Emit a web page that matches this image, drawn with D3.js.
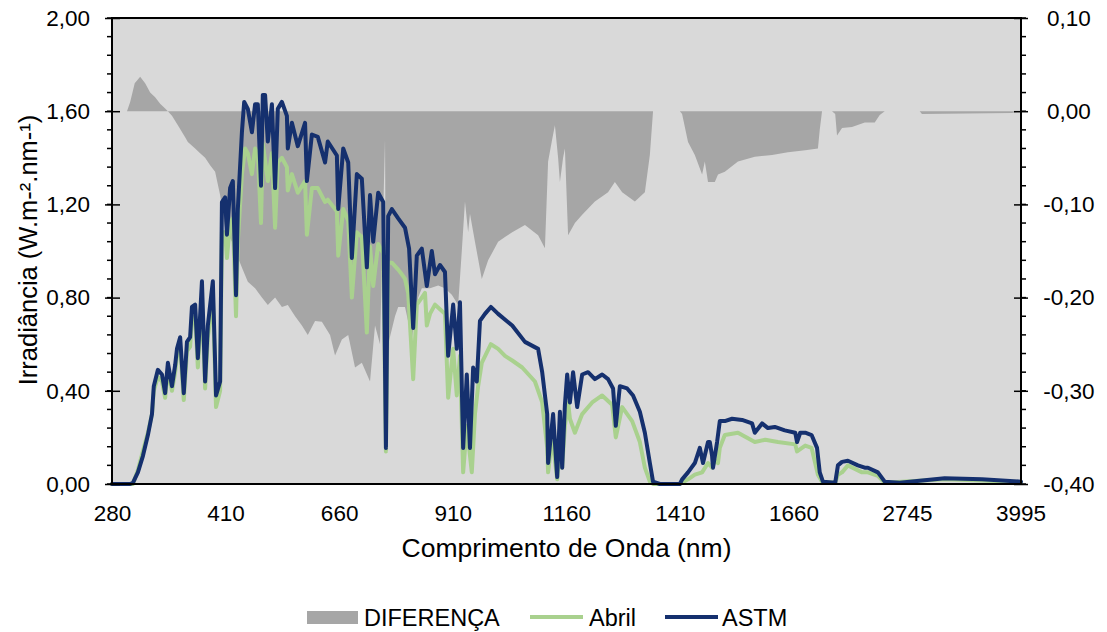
<!DOCTYPE html>
<html><head><meta charset="utf-8">
<script src="https://cdn.jsdelivr.net/npm/d3@7"></script>
<style>
html,body{margin:0;padding:0;background:#fff;}
svg{display:block;font-family:"Liberation Sans",Arial,sans-serif;}
</style></head>
<body><svg id="chart" width="1107" height="632"></svg>
<script>
// ---- DATA (wavelength nm / value) ----
const xTickValues = [280, 410, 660, 910, 1160, 1410, 1660, 2745, 3995];
const xTickLabels = ["280", "410", "660", "910", "1160", "1410", "1660", "2745", "3995"];
const yLeftTicks = [0, 0.4, 0.8, 1.2, 1.6, 2.0];
const yRightTicks = [-0.4, -0.3, -0.2, -0.1, 0, 0.1];

const astmWl = [280,289,300,303,308.5,314,319.5,324,326,330.5,335,338.5,341.5,346,349.5,351.5,355,359,362.5,366,368,371.5,374.5,379,382.5,385.5,391,394.5,399,
402,409,413,420,426,433,437,446,451,459,468,475,481,488,492,497,503,512,519,525,534,545,547,556,569,585,589,600,613,629,635,655,658,669,680,688,699,710,721,728,735,746,757,763,768,776,790,805,814,823,831,842,853,864,871,882,893,900,911,919,926,933,941,948,955,963,970,981,994,1010,1041,1069,1098,1107,1118,1120,1131,1140,1146,1151,1157,1162,1168,1175,1184,1195,1208,1223,1239,1252,1263,1269,1278,1294,1307,1322,1333,1344,1351,1366,1410,1415,1428,1443,1454,1461,1472,1476,1481,1483,1492,1498,1509,1525,1547,1569,1575,1591,1604,1619,1641,1664,1668,1675,1686,1700,
1755,1785,1820,1955,1985,2030,2095,2205,2280,2315,2425,2500,2665,3160,3570,4000];
const astmVal = [0,0,0,0.005,0.05,0.12,0.21,0.30,0.42,0.49,0.47,0.39,0.52,0.42,0.51,0.58,0.63,0.39,0.61,0.63,0.76,0.77,0.54,0.87,0.44,0.68,0.87,0.38,0.44,
1.21,1.23,1.07,1.27,1.30,0.81,1.18,1.51,1.64,1.61,1.51,1.63,1.63,1.28,1.67,1.67,1.47,1.63,1.27,1.61,1.64,1.58,1.44,1.55,1.45,1.55,1.30,1.50,1.49,1.38,1.47,1.41,1.18,1.44,1.38,0.97,1.33,1.31,0.93,1.24,1.04,1.25,1.21,0.155,1.15,1.18,1.14,1.10,1.01,0.67,0.98,1.01,0.85,1.00,0.90,0.94,0.91,0.55,0.77,0.58,0.78,0.155,0.47,0.155,0.50,0.44,0.70,0.73,0.76,0.73,0.68,0.61,0.58,0.48,0.30,0.09,0.30,0.03,0.31,0.07,0.34,0.47,0.35,0.48,0.33,0.47,0.48,0.45,0.47,0.45,0.41,0.25,0.42,0.41,0.38,0.31,0.22,0.09,0.01,0,0,0.02,0.05,0.09,0.155,0.09,0.18,0.18,0.12,0.07,0.18,0.27,0.27,0.28,0.275,0.26,0.22,0.26,0.24,0.245,0.23,0.22,0.18,0.22,0.22,0.21,
0.155,0.05,0.01,0.005,0.08,0.095,0.10,0.08,0.07,0.07,0.05,0.01,0.005,0.025,0.02,0.01];

const abrilWl = [280,303,308.5,314,319.5,324,326,330.5,335,338.5,341.5,346,349.5,351.5,355,359,362.5,366,368,371.5,374.5,379,382.5,385.5,391,394.5,399,
402,409,413,420,426,433,437,446,453,459,468,475,481,488,492,503,512,519,525,534,545,547,556,569,585,589,600,613,629,635,655,658,669,680,688,699,710,721,728,735,746,757,763,768,776,790,798,805,812,823,831,842,849,853,860,871,882,893,900,911,919,926,933,941,952,959,966,974,994,1010,1025,1041,1063,1091,1107,1118,1120,1129,1140,1146,1151,1157,1164,1168,1179,1195,1217,1239,1261,1269,1283,1305,1322,1333,1344,1351,1410,1428,1443,1459,1472,1481,1487,1494,1498,1509,1538,1575,1598,1626,1664,1668,1686,1700,
1765,1810,1955,1985,2030,2095,2250,2315,2425,2500,3160,3570,4000];
const abrilVal = [0,0,0.06,0.14,0.22,0.30,0.40,0.46,0.44,0.37,0.49,0.40,0.48,0.55,0.59,0.36,0.57,0.59,0.71,0.72,0.50,0.80,0.41,0.63,0.80,0.33,0.40,
1.08,1.08,0.97,1.12,1.14,0.72,1.04,1.33,1.44,1.42,1.33,1.44,1.42,1.12,1.46,1.30,1.42,1.10,1.38,1.40,1.36,1.26,1.33,1.25,1.30,1.07,1.27,1.27,1.21,1.22,1.17,0.98,1.18,1.13,0.80,1.08,1.06,0.65,1.02,0.85,1.03,0.99,0.14,0.95,0.95,0.92,0.90,0.88,0.82,0.45,0.77,0.80,0.82,0.68,0.73,0.77,0.75,0.73,0.37,0.58,0.38,0.55,0.05,0.25,0.05,0.30,0.42,0.52,0.60,0.58,0.55,0.53,0.50,0.44,0.35,0.155,0.05,0.20,0.02,0.15,0.07,0.25,0.35,0.28,0.22,0.30,0.35,0.38,0.34,0.20,0.33,0.27,0.18,0.07,0.01,0,0,0.02,0.04,0.05,0.09,0.07,0.10,0.09,0.155,0.21,0.22,0.18,0.19,0.18,0.17,0.14,0.165,0.155,
0.04,0.01,0.005,0.04,0.05,0.08,0.05,0.05,0.035,0.005,0.02,0.015,0.008];

const difWl = [280,296.5,300,305,311,316.5,322,327.5,333,338.5,341.5,346,352.5,360.5,363.5,371.5,377,382.5,388,393.5,399,
409,424,437,448,459,475,490,503,519,534,547,563,578,591,607,622,640,651,666,680,695,710,728,739,750,761,763,768,783,790,805,820,834,842,860,878,893,908,922,930,937,944,948,959,974,988,1010,1025,1041,1069,1098,1113,1120,1129,1135,1142,1146,1153,1157,1164,1179,1195,1223,1252,1267,1283,1311,1333,1344,1351,1410,1415,1428,1443,1459,1465,1472,1487,1494,1509,1538,1575,1613,1648,1686,
1765,1785,1810,1920,1955,1975,2030,2140,2280,2390,2445,2500,2885,2910,3900,4000];
const difVal = [0,0,0.01,0.03,0.037,0.03,0.02,0.015,0.008,0.003,0,-0.005,-0.015,-0.028,-0.033,-0.04,-0.045,-0.05,-0.058,-0.065,-0.09,
-0.125,-0.14,-0.157,-0.17,-0.183,-0.19,-0.2,-0.208,-0.2,-0.21,-0.208,-0.22,-0.23,-0.24,-0.225,-0.226,-0.24,-0.262,-0.245,-0.24,-0.275,-0.27,-0.29,-0.23,-0.25,-0.03,-0.22,-0.25,-0.22,-0.21,-0.21,-0.244,-0.2,-0.19,-0.19,-0.187,-0.19,-0.197,-0.208,-0.15,-0.097,-0.13,-0.11,-0.14,-0.18,-0.16,-0.14,-0.135,-0.13,-0.122,-0.133,-0.147,-0.054,-0.03,-0.015,-0.05,-0.076,-0.05,-0.04,-0.133,-0.12,-0.111,-0.097,-0.087,-0.076,-0.087,-0.097,-0.087,-0.047,0,0,-0.003,-0.033,-0.047,-0.068,-0.054,-0.076,-0.076,-0.068,-0.065,-0.054,-0.049,-0.047,-0.044,-0.042,
-0.04,-0.02,0,0,-0.003,-0.026,-0.018,-0.017,-0.012,-0.012,-0.004,0,0,-0.003,-0.002,0];

// ---- LAYOUT ----
const svg = d3.select("#chart");
const L = 112, R = 1021, T = 18, B = 484;
const nCat = 2001;
const catPx = i => L + i * (R - L) / nCat;
const x = d3.scaleLinear()
  .domain([280, 400, 1700, 1702, 1705, 4000])
  .range([0, 240, 1540, 1541, 1542, 2001].map(catPx));
const yL = d3.scaleLinear().domain([0, 2]).range([B, T]);
const yR = d3.scaleLinear().domain([-0.4, 0.1]).range([B, T]);
const fmt = v => v.toFixed(2).replace(".", ",");

svg.append("rect").attr("x", L).attr("y", T).attr("width", R - L).attr("height", B - T).attr("fill", "#D9D9D9");

const zip = (a, b) => a.map((w, i) => [w, b[i]]);
const plot = svg.append("g");
plot.append("path").datum(zip(difWl, difVal))
  .attr("fill", "#A6A6A6")
  .attr("d", d3.area().x(d => x(d[0])).y0(yR(0)).y1(d => yR(d[1])));
plot.append("path").datum(zip(abrilWl, abrilVal))
  .attr("fill", "none").attr("stroke", "#A9D18E").attr("stroke-width", 4)
  .attr("stroke-linejoin", "round").attr("stroke-linecap", "round")
  .attr("d", d3.line().x(d => x(d[0])).y(d => yL(d[1])));
plot.append("path").datum(zip(astmWl, astmVal))
  .attr("fill", "none").attr("stroke", "#15306E").attr("stroke-width", 4)
  .attr("stroke-linejoin", "round").attr("stroke-linecap", "round")
  .attr("d", d3.line().x(d => x(d[0])).y(d => yL(d[1])));

// frame
svg.append("rect").attr("x", L).attr("y", T).attr("width", R - L).attr("height", B - T)
  .attr("fill", "none").attr("stroke", "#000").attr("stroke-width", 2);

// left axis
const minorL = d3.range(0, 2.0001, 0.08);
svg.append("g").selectAll("line").data(minorL).join("line")
  .attr("x1", L - 5).attr("x2", L).attr("y1", d => yL(d)).attr("y2", d => yL(d))
  .attr("stroke", "#000").attr("stroke-width", 1.5);
const axL = svg.append("g").attr("transform", `translate(${L},0)`)
  .call(d3.axisLeft(yL).tickValues(yLeftTicks).tickSizeInner(7).tickSizeOuter(0).tickPadding(15).tickFormat(fmt));
axL.select(".domain").remove();
axL.selectAll(".tick line").attr("x2", 8).attr("x1", -7).attr("stroke-width", 1.5);
axL.selectAll("text").attr("font-size", 22.5).attr("fill", "#000").attr("font-family", "Liberation Sans, Arial, sans-serif");

// right axis
const minorR = d3.range(-0.4, 0.1001, 0.02);
svg.append("g").selectAll("line").data(minorR).join("line")
  .attr("x1", R).attr("x2", R + 5).attr("y1", d => yR(d)).attr("y2", d => yR(d))
  .attr("stroke", "#000").attr("stroke-width", 1.5);
const axR = svg.append("g").attr("transform", `translate(${R},0)`)
  .call(d3.axisRight(yR).tickValues(yRightTicks).tickSizeInner(7).tickSizeOuter(0).tickPadding(12).tickFormat(fmt));
axR.select(".domain").remove();
axR.selectAll(".tick line").attr("x1", -7).attr("x2", 7).attr("stroke-width", 1.5);
axR.selectAll("text").attr("font-size", 22.5).attr("fill", "#000").attr("text-anchor", "middle").attr("x", 48)
  .attr("font-family", "Liberation Sans, Arial, sans-serif");

// bottom axis
const axB = svg.append("g").attr("transform", `translate(0,${B})`)
  .call(d3.axisBottom(x).tickValues(xTickValues).tickSize(0).tickPadding(21)
    .tickFormat((d, i) => xTickLabels[i]));
axB.select(".domain").remove();
axB.selectAll("text").attr("font-size", 22.5).attr("fill", "#000").attr("font-family", "Liberation Sans, Arial, sans-serif");

// titles
svg.append("text").attr("x", (L + R) / 2).attr("y", 557).attr("text-anchor", "middle")
  .attr("font-size", 26.5).text("Comprimento de Onda (nm)");
svg.append("text").attr("transform", "translate(37,250) rotate(-90)").attr("text-anchor", "middle")
  .attr("font-size", 25.5).text("Irradiância (W.m-².nm-¹)");

// legend
const lg = svg.append("g").attr("font-size", 23.5);
lg.append("rect").attr("x", 307).attr("y", 611).attr("width", 51).attr("height", 13).attr("fill", "#A6A6A6");
lg.append("text").attr("x", 364).attr("y", 626).text("DIFERENÇA");
lg.append("line").attr("x1", 530).attr("x2", 583).attr("y1", 617).attr("y2", 617).attr("stroke", "#A9D18E").attr("stroke-width", 4);
lg.append("text").attr("x", 589).attr("y", 626).text("Abril");
lg.append("line").attr("x1", 665).attr("x2", 718).attr("y1", 617).attr("y2", 617).attr("stroke", "#15306E").attr("stroke-width", 4);
lg.append("text").attr("x", 722).attr("y", 626).text("ASTM");
</script></body></html>
